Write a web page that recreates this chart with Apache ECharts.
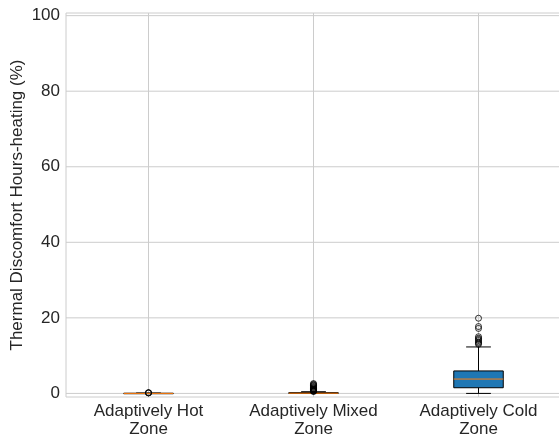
<!DOCTYPE html>
<html><head><meta charset="utf-8">
<script src="https://cdn.jsdelivr.net/npm/echarts@6/dist/echarts.min.js"></script>
<style>html,body{margin:0;padding:0;background:#fff}#c{width:559px;height:437px}</style>
</head><body><div id="c"></div>
<script>
const categories = ['Adaptively Hot\nZone', 'Adaptively Mixed\nZone', 'Adaptively Cold\nZone'];
// [lower whisker, Q1, median, Q3, upper whisker]
const boxStats = [
  [0, 0, 0, 0.05, 0.1],
  [0, 0, 0.05, 0.2, 0.45],
  [0, 1.5, 3.8, 5.95, 12.3]
];
const hotOutliers = [0.12, 0.15, 0.2];
const mixedOutliers = [0.5, 0.6, 0.7, 0.8, 0.9, 1.0, 1.1, 1.2, 1.4, 1.6, 1.8, 2.0, 2.2, 2.4, 2.6];
const coldOutliers = [13.0, 13.3, 13.6, 14.0, 14.3, 14.6, 15.0, 17.2, 17.7, 19.9];
const yTicks = [0, 20, 40, 60, 80, 100];

const outlierData = [];
[hotOutliers, mixedOutliers, coldOutliers].forEach((arr, i) => arr.forEach(v => outlierData.push([i, v])));

const yMin = -0.95, yMax = 100.7;
const chart = echarts.init(document.getElementById('c'), null, {renderer: 'canvas'});
const font = 'Liberation Sans, Arial, sans-serif';
chart.setOption({
  animation: false,
  backgroundColor: '#fff',
  grid: {left: 66, top: 13, width: 495, height: 384, show: true, borderColor: '#cccccc', borderWidth: 1,
    containLabel: false, outerBoundsMode: 'none'},
  xAxis: {
    type: 'category', data: categories, boundaryGap: true,
    axisLine: {show: false}, axisTick: {show: false}, splitLine: {show: false},
    axisLabel: {color: '#262626', fontSize: 17, fontFamily: font, margin: 5, lineHeight: 18, interval: 0, hideOverlap: false}
  },
  yAxis: {
    type: 'value', min: yMin, max: yMax,
    axisLine: {show: false}, axisTick: {show: false},
    axisLabel: {color: '#262626', fontSize: 17, fontFamily: font, margin: 6, customValues: yTicks},
    splitLine: {show: false},
    name: 'Thermal Discomfort Hours-heating (%)', nameLocation: 'middle', nameGap: 40, nameMoveOverlap: false,
    nameTextStyle: {color: '#262626', fontSize: 17, fontFamily: font}
  },
  series: [
    {
      type: 'custom', z: 1, silent: true,
      data: yTicks.map(v => [v]),
      renderItem: function (params, api) {
        const v = api.value(0);
        const p1 = api.coord([0, v]);
        return {type: 'line', shape: {x1: 66, y1: p1[1], x2: 561, y2: p1[1]},
          style: {stroke: '#cccccc', lineWidth: 1}};
      }
    },
    {
      type: 'custom', z: 2, silent: true,
      data: boxStats.map((s, i) => [i].concat(s)),
      renderItem: function (params, api) {
        const i = api.value(0);
        const lo = api.value(1), q1 = api.value(2), med = api.value(3), q3 = api.value(4), hi = api.value(5);
        const band = api.size([1, 0])[0];
        const bw = band * 0.3, cw = band * 0.15;
        const top = api.coord([i, yMax]), bot = api.coord([i, yMin]);
        const x = top[0];
        const pLo = api.coord([i, lo])[1], pQ1 = api.coord([i, q1])[1], pMed = api.coord([i, med])[1],
              pQ3 = api.coord([i, q3])[1], pHi = api.coord([i, hi])[1];
        return {type: 'group', children: [
          {type: 'line', shape: {x1: x, y1: top[1], x2: x, y2: bot[1]}, style: {stroke: '#cccccc', lineWidth: 1}},
          {type: 'line', shape: {x1: x, y1: pLo, x2: x, y2: pQ1}, style: {stroke: '#000', lineWidth: 1}},
          {type: 'line', shape: {x1: x, y1: pQ3, x2: x, y2: pHi}, style: {stroke: '#000', lineWidth: 1}},
          {type: 'line', shape: {x1: x - cw / 2, y1: pLo, x2: x + cw / 2, y2: pLo}, style: {stroke: '#000', lineWidth: 1}},
          {type: 'line', shape: {x1: x - cw / 2, y1: pHi, x2: x + cw / 2, y2: pHi}, style: {stroke: '#000', lineWidth: 1}},
          {type: 'rect', shape: {x: x - bw / 2, y: pQ3, width: bw, height: Math.max(pQ1 - pQ3, 0.5)},
            style: {fill: '#1f77b4', stroke: '#000', lineWidth: 1}},
          {type: 'line', shape: {x1: x - bw / 2, y1: pMed, x2: x + bw / 2, y2: pMed}, style: {stroke: '#ff7f0e', lineWidth: 1}}
        ]};
      }
    },
    {
      type: 'scatter', z: 3, silent: true, data: outlierData,
      symbol: 'circle', symbolSize: 6,
      itemStyle: {color: 'rgba(0,0,0,0)', borderColor: '#000', borderWidth: 1}
    }
  ]
});
</script></body></html>
